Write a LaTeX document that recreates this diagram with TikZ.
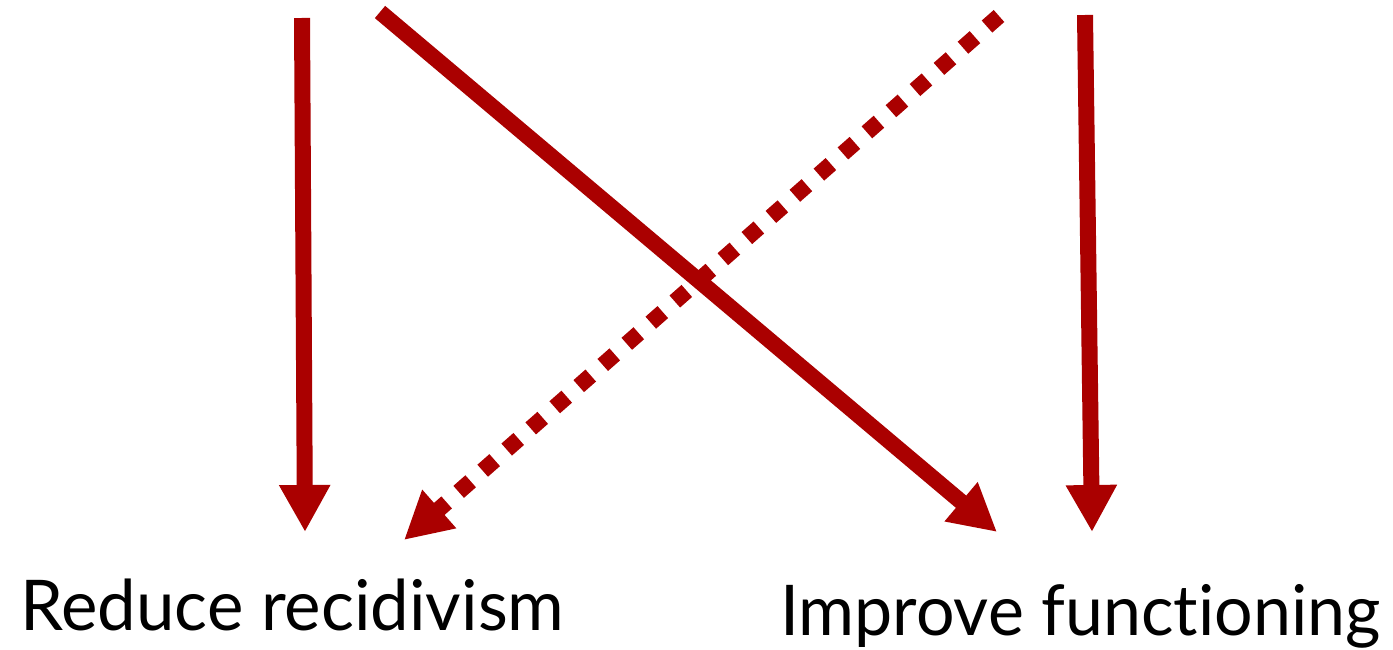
\documentclass[tikz,border=0pt]{standalone}
\usepackage{fontspec}
\setmainfont[Ligatures=NoCommon]{Lato}
\usetikzlibrary{arrows.meta}
\definecolor{arrowred}{RGB}{170,0,0}
\tikzset{
  link/.style={draw=arrowred, line width=16pt, -{Triangle[width=48pt,length=47pt]}, arrowred},
  dotlink/.style={link, dash pattern=on 16pt off 16pt},
  label/.style={inner sep=0pt, anchor=base west, font=\fontsize{70pt}{80pt}\selectfont}
}
\begin{document}
\begin{tikzpicture}[x=1pt,y=-1pt]
\useasboundingbox (0,0) rectangle (1393,650);
\node[label, xscale=0.985] (reduce) at (20,630) {Reduce recidivism};
\node[label, xscale=0.972] (improve) at (780,635) {Improve functioning};
\coordinate (a1) at (302,18);
\coordinate (a2) at (380,12);
\coordinate (a3) at (999,16);
\coordinate (a4) at (1085,15);
\coordinate (b1) at (305,532);
\coordinate (b2) at (997,532);
\coordinate (b3) at (404,540);
\coordinate (b4) at (1092,532);
\draw[link] (a1) -- (b1);
\draw[link] (a2) -- (b2);
\draw[dotlink] (a3) -- (b3);
\draw[link] (a4) -- (b4);
\end{tikzpicture}
\end{document}
